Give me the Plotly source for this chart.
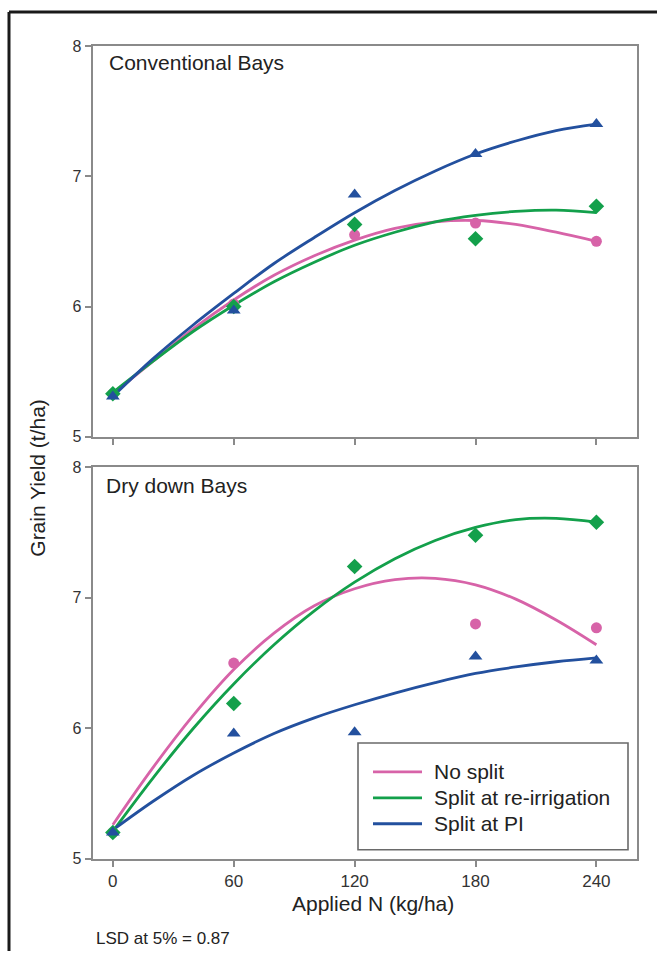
import plotly.graph_objects as go

# ---------------- data ----------------
N_RATES = [0, 60, 120, 180, 240]
FIT_N = [0, 20, 40, 60, 80, 100, 120, 140, 160, 180, 200, 220, 240]
SERIES = ["No split", "Split at re-irrigation", "Split at PI"]
X_TICKS = [0, 60, 120, 180, 240]
Y_TICKS = [5, 6, 7, 8]

# Conventional Bays - observed
conv_no_split = [5.33, 6.02, 6.55, 6.64, 6.50]
conv_reirr = [5.33, 6.00, 6.63, 6.52, 6.77]
conv_pi = [5.31, 5.97, 6.86, 7.17, 7.40]
# Conventional Bays - fitted curves
conv_no_split_fit = [5.33, 5.58, 5.83, 6.05, 6.24, 6.39, 6.51, 6.60, 6.65, 6.66, 6.63, 6.57, 6.50]
conv_reirr_fit = [5.34, 5.58, 5.81, 6.01, 6.19, 6.34, 6.47, 6.57, 6.65, 6.70, 6.73, 6.74, 6.72]
conv_pi_fit = [5.31, 5.60, 5.86, 6.10, 6.33, 6.53, 6.72, 6.89, 7.04, 7.17, 7.27, 7.35, 7.40]

# Dry down Bays - observed
dry_no_split = [5.20, 6.50, 7.24, 6.80, 6.77]
dry_reirr = [5.20, 6.19, 7.24, 7.48, 7.58]
dry_pi = [5.20, 5.96, 5.97, 6.55, 6.52]
# Dry down Bays - fitted curves
dry_no_split_fit = [5.26, 5.70, 6.10, 6.45, 6.73, 6.94, 7.07, 7.14, 7.15, 7.10, 6.99, 6.83, 6.64]
dry_reirr_fit = [5.21, 5.62, 6.00, 6.34, 6.64, 6.90, 7.12, 7.30, 7.44, 7.54, 7.60, 7.61, 7.58]
dry_pi_fit = [5.22, 5.44, 5.64, 5.81, 5.96, 6.08, 6.18, 6.27, 6.35, 6.42, 6.47, 6.51, 6.54]

# ---------------- styling ----------------
W, H = 657, 960
FONT = "Liberation Sans, Arial, sans-serif"
TEXT = "#222222"
COLORS = ["#d763a8", "#13a04b", "#23509e"]
SYMBOLS = ["circle", "diamond", "triangle-up"]
MSIZE = [11, 12, 12]
AXIS_GREY = "#8a8a8a"

# the photographed page lands at y' = 6 + 0.985*y, so place items accordingly
Y_OFF, Y_SCALE = 6.0, 0.985


def px_x(p):
    return p / W


def px_y(p):
    return 1 - ((p - Y_OFF) / Y_SCALE) / H


fig = go.Figure()

panels = [
    ("x", "y", [conv_no_split, conv_reirr, conv_pi],
     [conv_no_split_fit, conv_reirr_fit, conv_pi_fit]),
    ("x2", "y2", [dry_no_split, dry_reirr, dry_pi],
     [dry_no_split_fit, dry_reirr_fit, dry_pi_fit]),
]

for xa, ya, obs, fits in panels:
    for i, name in enumerate(SERIES):
        fig.add_trace(go.Scatter(
            x=FIT_N, y=fits[i], mode="lines", name=name,
            line=dict(color=COLORS[i], width=2.8, shape="spline", smoothing=1.0),
            xaxis=xa, yaxis=ya, showlegend=False, hoverinfo="skip"))
    for i, name in enumerate(SERIES):
        fig.add_trace(go.Scatter(
            x=N_RATES, y=obs[i], mode="markers", name=name,
            marker=dict(color=COLORS[i], symbol=SYMBOLS[i], size=MSIZE[i],
                        line=dict(width=0)),
            xaxis=xa, yaxis=ya, showlegend=False))

x_dom = [px_x(92.7), px_x(636.7)]
common_x = dict(range=[-10, 260], tickvals=X_TICKS, ticks="outside", ticklen=6,
                tickwidth=1.5, tickcolor=AXIS_GREY, showline=True, linecolor=AXIS_GREY,
                linewidth=2, mirror=True, showgrid=False, zeroline=False,
                tickfont=dict(family=FONT, size=17, color="#333333"))
common_y = dict(range=[5, 8], tickvals=Y_TICKS, ticks="outside", ticklen=6,
                tickwidth=1.5, tickcolor=AXIS_GREY, showline=True, linecolor=AXIS_GREY,
                linewidth=2, mirror=True, showgrid=False, zeroline=False,
                tickfont=dict(family=FONT, size=16, color="#333333"))

fig.update_layout(
    width=W, height=H,
    margin=dict(l=0, r=0, t=0, b=0),
    paper_bgcolor="white", plot_bgcolor="white",
    font=dict(family=FONT, color=TEXT),
    xaxis=dict(domain=x_dom, anchor="y", showticklabels=False, **common_x),
    yaxis=dict(domain=[px_y(436), px_y(44)], anchor="x", **common_y),
    xaxis2=dict(domain=x_dom, anchor="y2", showticklabels=True, **common_x),
    yaxis2=dict(domain=[px_y(859), px_y(466.7)], anchor="x2", **common_y),
    showlegend=False,
)

annotations = [
    dict(text="Conventional Bays", x=px_x(107), y=px_y(61), xanchor="left", yanchor="middle",
         font=dict(size=21)),
    dict(text="Dry down Bays", x=px_x(104), y=px_y(485), xanchor="left", yanchor="middle",
         font=dict(size=21)),
    dict(text="Applied N (kg/ha)", x=px_x(373), y=px_y(904), xanchor="center", yanchor="middle",
         font=dict(size=21)),
    dict(text="Grain Yield (t/ha)", x=px_x(38), y=px_y(477), xanchor="center", yanchor="middle",
         textangle=-90, font=dict(size=21)),
    dict(text="LSD at 5% = 0.87", x=px_x(94), y=px_y(939), xanchor="left", yanchor="middle",
         font=dict(size=17)),
]

# legend (drawn in the bottom panel, as in the reference)
LEG_X0, LEG_X1, LEG_Y0, LEG_Y1 = 358, 628, 743, 850
LEG_ROWS = [772, 798, 824]
shapes = [dict(type="rect", xref="paper", yref="paper",
               x0=px_x(LEG_X0), x1=px_x(LEG_X1), y0=px_y(LEG_Y1), y1=px_y(LEG_Y0),
               line=dict(color="#6a6a6a", width=1.6), fillcolor="white", layer="above")]
for i, name in enumerate(SERIES):
    shapes.append(dict(type="line", xref="paper", yref="paper",
                       x0=px_x(373), x1=px_x(422), y0=px_y(LEG_ROWS[i]), y1=px_y(LEG_ROWS[i]),
                       line=dict(color=COLORS[i], width=2.8), layer="above"))
    annotations.append(dict(text=name, x=px_x(432), y=px_y(LEG_ROWS[i]), xanchor="left",
                            yanchor="middle", font=dict(size=21)))

# outer frame of the figure: left and top edges only, kept inside the page
FRAME = dict(color="#1a1a1a", width=3)
shapes.append(dict(type="line", xref="paper", yref="paper",
                   x0=px_x(9), x1=px_x(9), y0=0, y1=px_y(10), line=FRAME, layer="below"))
shapes.append(dict(type="line", xref="paper", yref="paper",
                   x0=px_x(9), x1=1, y0=px_y(10), y1=px_y(10), line=FRAME, layer="below"))

for a in annotations:
    a.update(xref="paper", yref="paper", showarrow=False)
    a["font"].update(family=FONT, color=TEXT)
fig.update_layout(annotations=annotations, shapes=shapes)

fig.write_html(
    "out.html",
    config={"displayModeBar": False},
    post_script="document.body.style.margin='0';document.body.style.overflow='hidden';",
)
